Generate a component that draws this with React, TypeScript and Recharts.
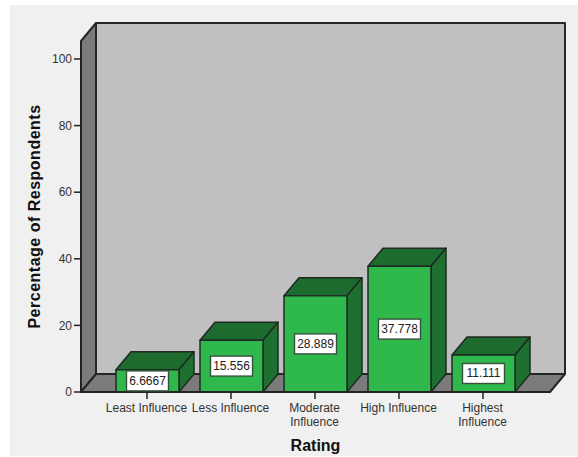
import React from 'react'
import { BarChart, Bar, XAxis, YAxis, ReferenceArea, LabelList } from 'recharts'

const categories = ['Least Influence', 'Less Influence', 'Moderate Influence', 'High Influence', 'Highest Influence']
const percentages = [6.6667, 15.556, 28.889, 37.778, 11.111]
const yTicks = [0, 20, 40, 60, 80, 100]
const yMax = 105.4

const rows = categories.map((name, i) => ({ name, value: percentages[i] }))

const DX = 15
const DY = 18
const PAD_LEFT = 24
const PAD_RIGHT = 25
const EDGE = '#1f2a22'
const FONT = '"Liberation Sans", Arial, sans-serif'

// Back wall, left wall and floor of the 3D frame.
// The reference area only spans the bands, so the axis padding is added back here.
function Walls({ x, y, width, height }: any) {
  const l = x - PAD_LEFT
  const r = x + width + PAD_RIGHT
  const t = y
  const b = y + height
  const line = { stroke: '#262626', strokeWidth: 2, strokeLinejoin: 'round' as const }
  return (
    <g>
      <rect x={l + DX} y={t - DY} width={r - l} height={height} fill='#c0c0c0' {...line} />
      <polygon
        points={`${l},${b} ${l},${t} ${l + DX},${t - DY} ${l + DX},${b - DY}`}
        fill='#7b7b7b'
        {...line}
      />
      <polygon
        points={`${l},${b} ${l + DX},${b - DY} ${r + DX},${b - DY} ${r},${b}`}
        fill='#7b7b7b'
        {...line}
      />
    </g>
  )
}

function Box3D({ x, y, width, height }: any) {
  const r = x + width
  const b = y + height
  const line = { stroke: EDGE, strokeWidth: 1.5, strokeLinejoin: 'round' as const }
  return (
    <g>
      <polygon
        points={`${x},${y} ${x + DX},${y - DY} ${r + DX},${y - DY} ${r},${y}`}
        fill='#1d6b2e'
        {...line}
      />
      <polygon
        points={`${r},${y} ${r + DX},${y - DY} ${r + DX},${b - DY} ${r},${b}`}
        fill='#1e7030'
        {...line}
      />
      <rect x={x} y={y} width={width} height={height} fill='#2fb84c' {...line} />
    </g>
  )
}

function ValueBox({ x, y, width, height, value }: any) {
  const cx = x + width / 2
  const cy = y + height / 2
  return (
    <g>
      <rect x={cx - 21} y={cy - 10} width={42} height={20} fill='#ffffff' stroke='#35523d' strokeWidth={1.4} />
      <text x={cx} y={cy + 4} textAnchor='middle' fontSize={12} fontFamily={FONT} fill='#222'>
        {value}
      </text>
    </g>
  )
}

// Moderate and Highest wrap onto two lines, the others fit their slot
function CategoryTick({ x, y, payload }: any) {
  const name: string = payload.value
  const lines = name === 'Moderate Influence' || name === 'Highest Influence' ? name.split(' ') : [name]
  return (
    <text x={x - 0.5} y={y + 11} textAnchor='middle' fontSize={12} fontFamily={FONT} fill='#333'>
      {lines.map((t, i) => (
        <tspan key={t} x={x - 0.5} dy={i === 0 ? 0 : 13.5}>
          {t}
        </tspan>
      ))}
    </text>
  )
}

export default function App() {
  return (
    <div style={{ position: 'absolute', left: 0, top: 0, width: 578, height: 457, background: '#ffffff' }}>
      <div style={{ position: 'absolute', left: 10, top: 5, width: 568, height: 451, background: '#f0f0f0' }} />
      <div style={{ position: 'absolute', left: 0, top: 0 }}>
        <BarChart
          width={578}
          height={457}
          data={rows}
          barSize={63}
          margin={{ top: 41, right: 28, bottom: 0, left: 31 }}
        >
          <XAxis
            dataKey='name'
            height={65}
            padding={{ left: PAD_LEFT, right: PAD_RIGHT }}
            interval={0}
            tick={<CategoryTick />}
            tickSize={7}
            tickLine={{ stroke: '#222', strokeWidth: 1.5 }}
            axisLine={{ stroke: '#222', strokeWidth: 2 }}
            label={{
              value: 'Rating',
              position: 'insideBottom',
              offset: 6,
              fontSize: 16,
              fontWeight: 700,
              fontFamily: FONT,
              fill: '#111',
            }}
          />
          <YAxis
            type='number'
            width={50}
            domain={[0, yMax]}
            ticks={yTicks}
            allowDataOverflow
            tickSize={7}
            tick={{ fontSize: 12, fontFamily: FONT, fill: '#333' }}
            tickLine={{ stroke: '#222', strokeWidth: 1.5 }}
            axisLine={{ stroke: '#222', strokeWidth: 2 }}
            label={{
              value: 'Percentage of Respondents',
              angle: -90,
              position: 'insideLeft',
              offset: 3,
              style: { textAnchor: 'middle', letterSpacing: 0.5 },
              fontSize: 16,
              fontWeight: 700,
              fontFamily: FONT,
              fill: '#111',
            }}
          />
          <ReferenceArea y1={0} y2={yMax} shape={<Walls />} ifOverflow='extendDomain' />
          <Bar dataKey='value' shape={<Box3D />} isAnimationActive={false}>
            <LabelList dataKey='value' content={<ValueBox />} />
          </Bar>
        </BarChart>
      </div>
    </div>
  )
}
